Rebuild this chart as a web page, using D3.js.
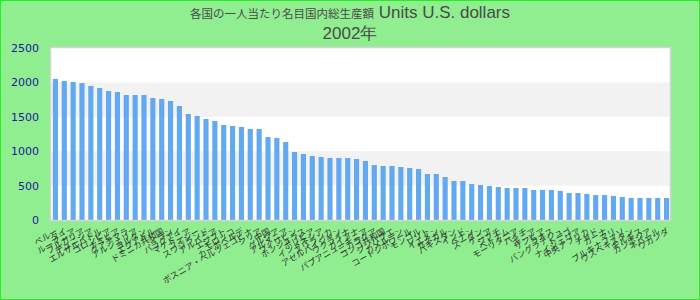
<!DOCTYPE html>
<html>
<head>
<meta charset="utf-8">
<script src="https://cdn.jsdelivr.net/npm/d3@7"></script>
<style>
  html, body { margin: 0; padding: 0; }
  body { width: 700px; height: 300px; overflow: hidden; }
</style>
</head>
<body>
<div id="chart"></div>
<script>
const w = 700;
const h = 300;

// chart data
var titleMain = "各国の一人当たり名目国内総生産額";
var titleUnits = " Units U.S. dollars";
var titleYear = "2002年";

var countries = [
  "ペルー","タイ","ルーマニア","ブルガリア","チュニジア","エルサルバドル","コロンビア","ナミビア","グアテマラ","アルジェリア",
  "ヨルダン","エクアドル","ドミニカ共和国","イラン","パラグアイ","マケドニア","フィジー","スワジランド","アルバニア","エジプト",
  "モロッコ","カーボベルデ","ボスニア・ヘルツェゴビナ","シリア","中国","グルジア","アルメニア","フィリピン","ホンジュラス","ボリビア",
  "インドネシア","スリランカ","アゼルバイジャン","ウクライナ","ガイアナ","パプアニューギニア","ニカラグア","コンゴ共和国","ジンバブエ","カメルーン",
  "コートジボワール","モンゴル","レソト","イエメン","セネガル","パキスタン","インド","ベナン","スーダン","ケニア",
  "ジブチ","ベトナム","モーリタニア","ハイチ","ギニア","ザンビア","ラオス","バングラデシュ","トーゴ","ナイジェリア",
  "中央アフリカ","チャド","ガーナ","マリ","ブルキナファソ","ウズベキスタン","キルギス","カンボジア","ネパール","ウガンダ"
];

var gdpValues = [
  2050, 2020, 2006, 1991, 1948, 1919, 1875, 1860, 1817, 1817,
  1817, 1773, 1759, 1730, 1657, 1541, 1512, 1468, 1439, 1381,
  1366, 1352, 1323, 1323, 1206, 1192, 1134, 988, 959, 930,
  916, 901, 901, 901, 887, 858, 799, 785, 785, 770,
  756, 741, 669, 669, 625, 567, 567, 523, 509, 494,
  480, 465, 465, 465, 436, 436, 436, 422, 392, 392,
  378, 363, 363, 349, 334, 320, 320, 320, 320, 320
];

var yTicks = [0, 500, 1000, 1500, 2000, 2500];

var margin = {top: 48, right: 30, bottom: 80, left: 50};

var svg = d3.select("#chart")
            .append("svg")
            .attr("width", w)
            .attr("height", h);

svg.append("rect")
   .attr("x", 0.5).attr("y", 0.5)
   .attr("width", w - 1).attr("height", h - 1)
   .attr("fill", "#90ee90")
   .attr("stroke", "#22ee22")
   .attr("stroke-width", 1);

var x = d3.scaleBand()
          .domain(countries)
          .range([margin.left + 1, w - margin.right + 1])
          .paddingInner(0.42)
          .paddingOuter(0.21);

var y = d3.scaleLinear()
          .domain([0, 2500])
          .range([h - margin.bottom, margin.top]);

// plot background
svg.append("rect")
   .attr("x", margin.left)
   .attr("y", margin.top)
   .attr("width", w - margin.left - margin.right)
   .attr("height", h - margin.top - margin.bottom)
   .attr("fill", "#ffffff");

// alternating bands
var bands = d3.pairs(yTicks).filter((d, i) => i % 2 == 1);
svg.append("g")
   .selectAll("rect")
   .data(bands)
   .enter()
   .append("rect")
   .attr("x", margin.left)
   .attr("width", w - margin.left - margin.right)
   .attr("y", d => y(d[1]))
   .attr("height", d => y(d[0]) - y(d[1]))
   .attr("fill", "#f2f2f2");

// bars
svg.append("g")
   .selectAll("rect")
   .data(gdpValues)
   .enter()
   .append("rect")
   .attr("x", (d, i) => x(countries[i]))
   .attr("width", x.bandwidth())
   .attr("y", d => y(d))
   .attr("height", d => y(0) - y(d))
   .attr("fill", "#63a9f2");

// plot border
svg.append("rect")
   .attr("x", margin.left + 0.5)
   .attr("y", margin.top - 0.5)
   .attr("width", w - margin.left - margin.right)
   .attr("height", h - margin.top - margin.bottom + 1)
   .attr("fill", "none")
   .attr("stroke", "#d4d4d4")
   .attr("stroke-width", 1.5);

// y axis
var yAxis = d3.axisLeft(y)
              .tickValues(yTicks)
              .tickFormat(d3.format("d"))
              .tickSize(0)
              .tickPadding(11);

var yg = svg.append("g")
            .attr("transform", "translate(" + margin.left + ",0)")
            .call(yAxis);
yg.select(".domain").remove();
yg.selectAll("text")
  .attr("fill", "#1a1a9c")
  .style("font-family", "DejaVu Sans")
  .style("font-size", "11px");

// x labels
svg.append("g")
   .selectAll("text")
   .data(countries)
   .enter()
   .append("text")
   .attr("transform", d => "translate(" + (x(d) + x.bandwidth() / 2 + 3) + "," + (y(0) + 13) + ") rotate(-30)")
   .attr("text-anchor", "end")
   .attr("fill", "#333")
   .style("font-family", "Noto Sans CJK JP")
   .style("font-size", "8.5px")
   .text(d => d);

// title
var title = svg.append("g")
               .attr("fill", "#4a4a4a")
               .style("font-family", "Liberation Sans")
               .attr("text-anchor", "middle");

var line1 = title.append("text")
                 .attr("x", w / 2)
                 .attr("y", 18)
                 .style("font-size", "17px");
line1.append("tspan")
     .style("font-family", "Noto Sans CJK JP")
     .style("font-size", "11.5px")
     .text(titleMain);
line1.append("tspan").text(titleUnits);

title.append("text")
     .attr("x", w / 2)
     .attr("y", 39)
     .style("font-size", "17px")
     .text(titleYear);
</script>
</body>
</html>
